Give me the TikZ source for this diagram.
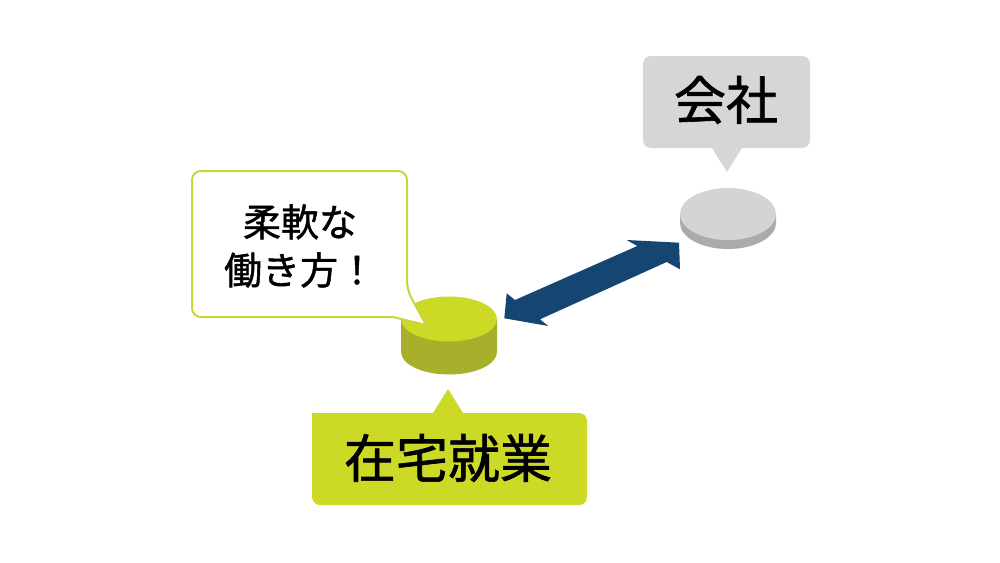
\documentclass[tikz,border=0pt]{standalone}
\usepackage{fontspec}
\newfontfamily\jp[FakeBold=1.2]{Noto Sans CJK JP}
\definecolor{lime}{HTML}{CDD927}
\definecolor{limeside}{HTML}{A8AF2A}
\definecolor{limeline}{HTML}{C9D63A}
\definecolor{greytop}{HTML}{D4D4D4}
\definecolor{greyside}{HTML}{ABABAB}
\definecolor{greybox}{HTML}{D6D6D6}
\definecolor{navy}{HTML}{154571}
\tikzset{
  bigtext/.style={font=\jp\fontsize{52}{60}\selectfont, text=black, inner sep=0pt},
  smalltext/.style={font=\jp\fontsize{38}{48}\selectfont, text=black, inner sep=0pt, align=center},
}
\begin{document}
\begin{tikzpicture}[x=1pt,y=-1pt]
\useasboundingbox[fill=white] (0,0) rectangle (1000,562);
% green cylinder
\fill[limeside] (401,319) -- (401,352) arc[start angle=180,end angle=360,x radius=48pt,y radius=22.5pt] -- (497,319) -- cycle;
\fill[lime] (449,319) ellipse[x radius=48pt,y radius=22.5pt];
% grey cylinder
\fill[greyside] (680,214) -- (680,223) arc[start angle=180,end angle=360,x radius=48pt,y radius=26pt] -- (776,214) -- cycle;
\fill[greytop] (728,214) ellipse[x radius=48pt,y radius=26pt];
% double arrow
\coordinate (rtip) at (679,242.7);
\coordinate (rlow) at (680,269.3);
\coordinate (rjl) at (666.7,262);
\coordinate (ljl) at (540,319.3);
\coordinate (llow) at (548.3,326);
\coordinate (ltip) at (504.3,318.3);
\coordinate (lup) at (506.7,293.3);
\coordinate (lju) at (515,300);
\coordinate (rju) at (637.3,246);
\coordinate (rup) at (626.7,240);
\fill[navy] (rtip) -- (rlow) -- (rjl) -- (ljl) -- (llow) -- (ltip) -- (lup) -- (lju) -- (rju) -- (rup) -- cycle;
% white speech bubble
\filldraw[fill=white, draw=limeline, line width=2pt, line join=round]
  (192,171) [rounded corners=9pt] -- (407,171) -- (407,290) [sharp corners] -- (426,325) -- (393,317) [rounded corners=9pt] -- (192,317) -- cycle;
\node[smalltext] (flex) at (300,246) {柔軟な\\働き方！};
% grey label bubble
\fill[greybox] (643,56) [rounded corners=8pt] -- (810,56) -- (810,148) [sharp corners] -- (742,148) -- (727,172) -- (712,148) [rounded corners=8pt] -- (643,148) -- cycle;
\node[bigtext] (kaisha) at (726,100) {会社};
% green label bubble
\fill[lime] (312,413) -- (433,413) -- (448,389) -- (463,413) [rounded corners=8pt] -- (587,413) -- (587,505) -- (312,505) -- (312,413) [sharp corners] -- cycle;
\node[bigtext] (zaitaku) at (448,458) {在宅就業};
\end{tikzpicture}
\end{document}
